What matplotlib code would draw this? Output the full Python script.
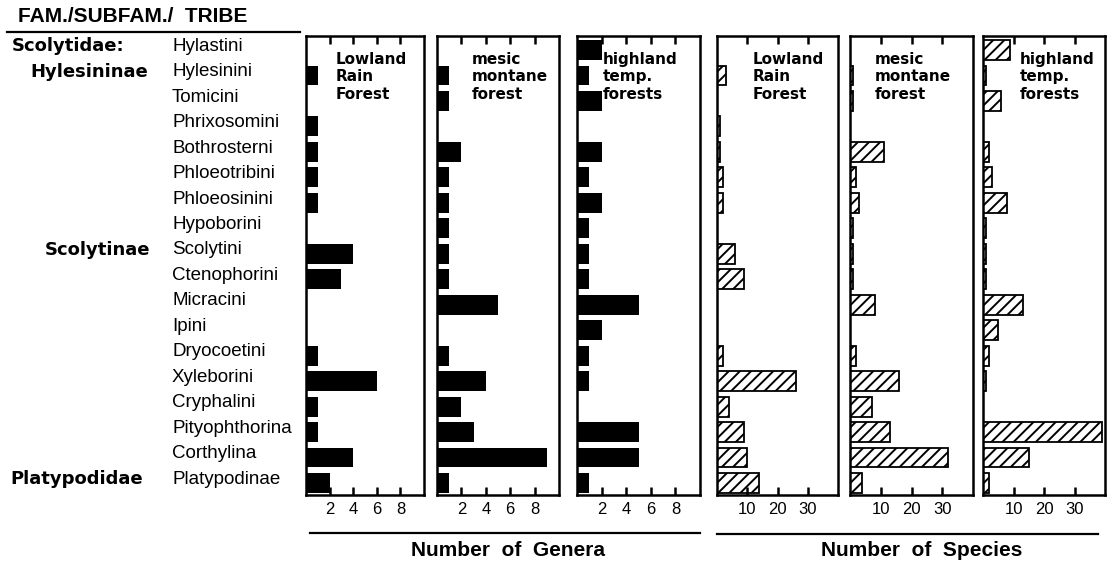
import numpy as np
import matplotlib
matplotlib.use('Agg')
import matplotlib.pyplot as plt
from matplotlib.transforms import blended_transform_factory

tribes = ['Hylastini', 'Hylesinini', 'Tomicini', 'Phrixosomini', 'Bothrosterni',
          'Phloeotribini', 'Phloeosinini', 'Hypoborini', 'Scolytini', 'Ctenophorini',
          'Micracini', 'Ipini', 'Dryocoetini', 'Xyleborini', 'Cryphalini',
          'Pityophthorina', 'Corthylina', 'Platypodinae']
families = {0: 'Scolytidae:', 1: 'Hylesininae', 8: 'Scolytinae', 17: 'Platypodidae'}

# number of genera per forest type
genera_lowland = [0, 1, 0, 1, 1, 1, 1, 0, 4, 3, 0, 0, 1, 6, 1, 1, 4, 2]
genera_mesic = [0, 1, 1, 0, 2, 1, 1, 1, 1, 1, 5, 0, 1, 4, 2, 3, 9, 1]
genera_highland = [2, 1, 2, 0, 2, 1, 2, 1, 1, 1, 5, 2, 1, 1, 0, 5, 5, 1]

# number of species per forest type
species_lowland = [0, 3, 0, 1, 1, 2, 2, 0, 6, 9, 0, 0, 2, 26, 4, 9, 10, 14]
species_mesic = [0, 1, 1, 0, 11, 2, 3, 1, 1, 1, 8, 0, 2, 16, 7, 13, 32, 4]
species_highland = [9, 1, 6, 0, 2, 3, 8, 1, 1, 1, 13, 5, 2, 1, 0, 39, 15, 2]

forests = ['Lowland\nRain\nForest', 'mesic\nmontane\nforest', 'highland\ntemp.\nforests']

W, H = 1108, 563
fig = plt.figure(figsize=(W / 100, H / 100), dpi=100)

plt.rcParams['hatch.linewidth'] = 1.4

# panel frames in pixels: left, right
frames = [(306, 424), (437, 559), (577, 700), (717, 838), (850, 973), (983, 1105)]
title_x = [0.254, 0.287, 0.211, 0.298, 0.203, 0.303]
top_px, bot_px = 36, 495
series = [genera_lowland, genera_mesic, genera_highland,
          species_lowland, species_mesic, species_highland]

y = np.arange(len(tribes))
axes = []
for i, (l, r) in enumerate(frames):
    ax = fig.add_axes([l / W, 1 - bot_px / H, (r - l) / W, (bot_px - top_px) / H])
    if i < 3:
        ax.barh(y, series[i], height=0.78, color='black')
        ax.set_xlim(0, 10)
        ax.set_xticks([2, 4, 6, 8])
    else:
        ax.barh(y, series[i], height=0.78, facecolor='white', edgecolor='black',
                hatch='///', linewidth=1.3)
        ax.set_xlim(0, 40)
        ax.set_xticks([10, 20, 30])
    ax.set_ylim(17.47, -0.55)
    ax.set_yticks([])
    ax.tick_params(axis='x', direction='in', top=True, bottom=True, length=6,
                   width=1.8, pad=5, labelsize=12)
    for lab in ax.get_xticklabels():
        lab.set_fontfamily('Liberation Sans')
    for s in ax.spines.values():
        s.set_linewidth(1.8)
    ax.text(title_x[i], 0.965, forests[i % 3], transform=ax.transAxes, ha='left',
            va='top', fontsize=11, fontweight='bold', family='DejaVu Sans',
            linespacing=1.2)
    axes.append(ax)

# row labels
tr = blended_transform_factory(fig.transFigure, axes[0].transData)
for i, t in enumerate(tribes):
    fig.text(172 / W, i - 0.15, t, transform=tr, ha='left', va='center',
             fontsize=13.5, family='Liberation Sans')
for i, f in families.items():
    xs = {0: 12, 1: 30, 8: 45, 17: 10}[i]
    fig.text(xs / W, i - 0.15, f, transform=tr, ha='left', va='center',
             fontsize=13, fontweight='bold', family='DejaVu Sans')

# header
fig.text(18 / W, 1 - 17 / H, 'FAM./SUBFAM./  TRIBE', ha='left', va='center',
         fontsize=15, fontweight='bold', family='Liberation Sans')
fig.add_artist(plt.Line2D([7 / W, 300 / W], [1 - 32 / H, 1 - 32 / H],
                          color='black', linewidth=1.6))

# group axis labels
fig.add_artist(plt.Line2D([310 / W, 700 / W], [1 - 533 / H, 1 - 533 / H],
                          color='black', linewidth=1.6))
fig.add_artist(plt.Line2D([717 / W, 1098 / W], [1 - 534 / H, 1 - 534 / H],
                          color='black', linewidth=1.6))
fig.text(508 / W, 1 - 550 / H, 'Number  of  Genera', ha='center', va='center',
         fontsize=15, fontweight='bold', family='Liberation Sans')
fig.text(922 / W, 1 - 551 / H, 'Number  of  Species', ha='center', va='center',
         fontsize=15, fontweight='bold', family='Liberation Sans')

fig.savefig('out.png', dpi=100)
